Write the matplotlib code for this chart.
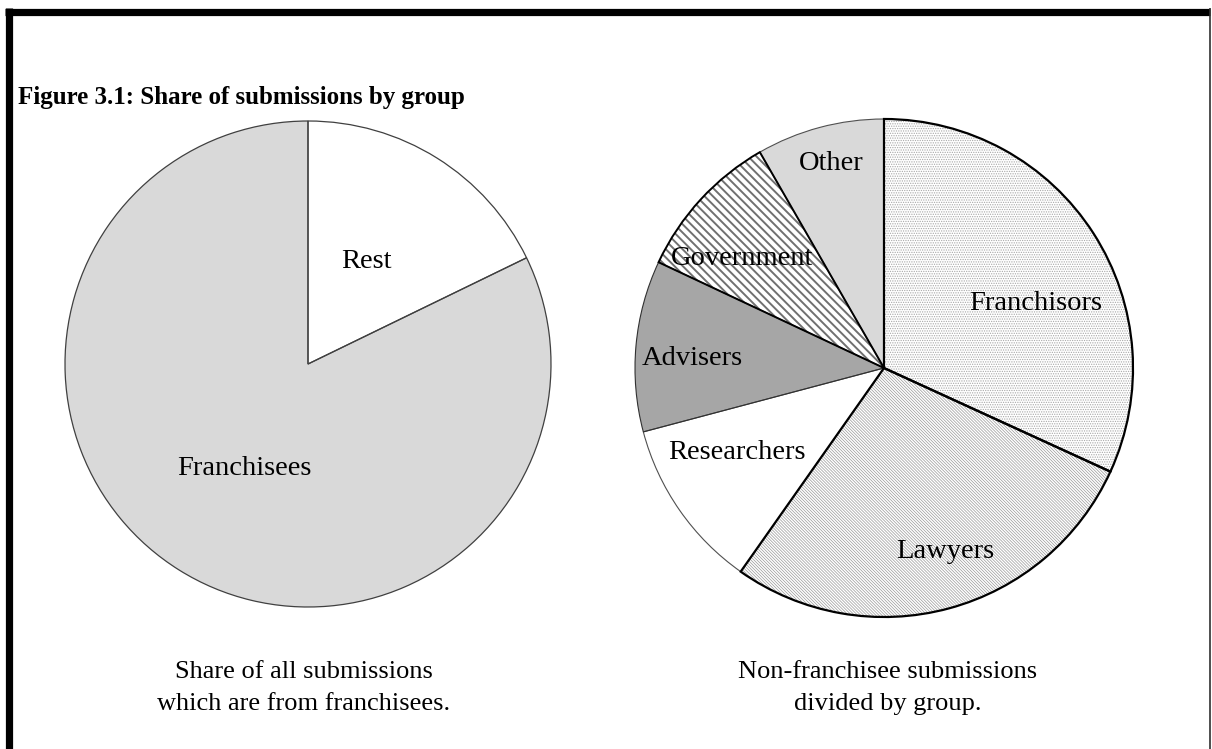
import matplotlib
matplotlib.use('Agg')
import matplotlib.pyplot as plt
from matplotlib.lines import Line2D

W, H = 1212, 749

# left pie: all submissions
all_groups = ['Rest', 'Franchisees']
all_shares = [17.8, 82.2]

# right pie: non-franchisee submissions
groups = ['Franchisors', 'Lawyers', 'Researchers', 'Advisers', 'Government', 'Other']
shares = [31.8, 27.9, 11.1, 11.1, 9.7, 8.3]

title = 'Figure 3.1: Share of submissions by group'
caption_left = 'Share of all submissions\nwhich are from franchisees.'
caption_right = 'Non-franchisee submissions\ndivided by group.'

SERIF = 'Liberation Serif'
plt.rcParams['hatch.linewidth'] = 0.7


def px(x):
    return x / W


def py(y):
    return 1 - y / H


def pie_axes(fig, cx, cy, r):
    ax = fig.add_axes([px(cx - r), py(cy + r), 2 * r / W, 2 * r / H])
    ax.set_axis_off()
    return ax


def draw_pie(ax, values, styles, label_pos, names):
    # pass 1: fills and hatches
    fills, _ = ax.pie(values, startangle=90, counterclock=False,
                      colors=[s['face'] for s in styles],
                      wedgeprops=dict(linewidth=0))
    for w, s in zip(fills, styles):
        if s.get('hatch'):
            w.set_hatch(s['hatch'])
            w.set_edgecolor(s['hcolor'])
            if hasattr(w, 'set_hatch_linewidth'):
                w.set_hatch_linewidth(s['hlw'])
        w.set_clip_on(False)
    # pass 2: outlines
    outlines, _ = ax.pie(values, startangle=90, counterclock=False,
                         wedgeprops=dict(fill=False))
    for w, s in zip(outlines, styles):
        w.set_edgecolor(s['edge'])
        w.set_linewidth(s['lw'])
        w.set_zorder(3 if s['lw'] > 1 else 2)
        w.set_clip_on(False)
    ax.set_xlim(-1, 1)
    ax.set_ylim(-1, 1)
    for name, (x, y) in zip(names, label_pos):
        ax.text(x, y, name, ha='center', va='center', fontsize=20.5,
                family=SERIF, color='black', zorder=5)


fig = plt.figure(figsize=(W / 100, H / 100), dpi=100)
fig.patch.set_facecolor('white')

# frame
fig.add_artist(Line2D([px(8.5), px(8.5)], [py(8), py(749)], color='black',
                      lw=5.2, transform=fig.transFigure, solid_capstyle='butt'))
fig.add_artist(Line2D([px(5), px(1210)], [py(11.5), py(11.5)], color='black',
                      lw=5.2, transform=fig.transFigure, solid_capstyle='butt'))
fig.add_artist(Line2D([px(1209.5), px(1209.5)], [py(8), py(749)], color='#303030',
                      lw=1.2, transform=fig.transFigure, solid_capstyle='butt'))

fig.text(px(18), py(104), title, fontsize=18, fontweight='bold', family=SERIF,
         ha='left', va='baseline')

# left pie
ax1 = pie_axes(fig, 308, 364, 243)
left_styles = [
    dict(face='white', edge='#404040', lw=0.9),
    dict(face='#d9d9d9', edge='#404040', lw=0.9),
]
draw_pie(ax1, all_shares, left_styles, [(0.24, 0.42), (-0.26, -0.43)], all_groups)

# right pie
ax2 = pie_axes(fig, 884, 368, 249)
right_styles = [
    dict(face='white', hatch='.......', hcolor='#a8a8a8', hlw=0.6, edge='black', lw=1.6),
    dict(face='white', hatch='\\' * 11, hcolor='#9a9a9a', hlw=0.5, edge='black', lw=1.6),
    dict(face='white', edge='#505050', lw=0.8),
    dict(face='#a6a6a6', edge='#303030', lw=0.8),
    dict(face='white', hatch='\\' * 4, hcolor='#707070', hlw=1.4, edge='black', lw=1.4),
    dict(face='#d9d9d9', edge='#505050', lw=0.8),
]
right_pos = [(0.61, 0.26), (0.245, -0.735), (-0.59, -0.34),
             (-0.77, 0.04), (-0.57, 0.44), (-0.21, 0.82)]
draw_pie(ax2, shares, right_styles, right_pos, groups)

fig.text(px(304), py(688), caption_left, fontsize=19, family=SERIF,
         ha='center', va='center', multialignment='center', linespacing=1.55)
fig.text(px(888), py(688), caption_right, fontsize=19, family=SERIF,
         ha='center', va='center', multialignment='center', linespacing=1.55)

fig.savefig('out.png', dpi=100, facecolor='white')
